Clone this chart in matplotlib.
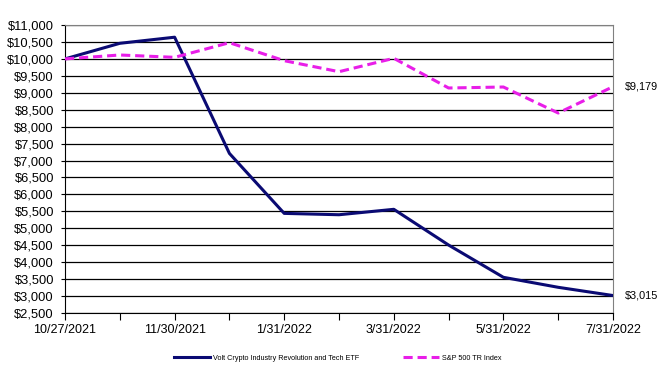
import numpy as np
import matplotlib.pyplot as plt

plt.rcParams['font.family'] = ['Liberation Sans', 'DejaVu Sans']

# month-end dates (fund inception 10/27/2021)
dates = ['10/27/2021', '10/31/2021', '11/30/2021', '12/31/2021', '1/31/2022',
         '2/28/2022', '3/31/2022', '4/30/2022', '5/31/2022', '6/30/2022', '7/31/2022']
volt = [10000, 10460, 10640, 7210, 5440, 5400, 5560, 4505, 3553, 3258, 3015]
sp500 = [10000, 10115, 10046, 10478, 9947, 9622, 10017, 9141, 9170, 8403, 9179]
names = ['Volt Crypto Industry Revolution and Tech ETF', 'S&P 500 TR Index']

x = np.arange(len(dates))

fig = plt.figure(figsize=(6.69, 3.83), dpi=100)
ax = fig.add_axes([0.0972, 0.1828, 0.8191, 0.7519])

ax.plot(x, volt, color='#0a0a73', lw=2.2, label=names[0], zorder=3)
ax.plot(x, sp500, color='#e81ee8', lw=2.2, ls=(0, (3, 1.6)), label=names[1], zorder=3)

ax.set_xlim(0, len(dates) - 1)
ax.set_ylim(2500, 11000)
yt = np.arange(2500, 11001, 500)
ax.set_yticks(yt)
ax.set_yticklabels(['${:,}'.format(v) for v in yt], fontsize=9.3)
ax.set_xticks(x)
ax.set_xticklabels([d if i % 2 == 0 else '' for i, d in enumerate(dates)], fontsize=9)
ax.tick_params(axis='y', length=3, width=0.8, pad=5)
ax.tick_params(axis='x', length=5, width=0.8, pad=3)
ax.grid(axis='y', color='black', lw=0.9)
ax.set_axisbelow(True)
for s in ['top', 'right']:
    ax.spines[s].set_color('#808080')
for s in ['left', 'bottom']:
    ax.spines[s].set_color('black')

# ending values
ax.annotate('${:,}'.format(sp500[-1]), (x[-1], sp500[-1]), xytext=(8.5, 0),
            textcoords='offset points', va='center', fontsize=7.8)
ax.annotate('${:,}'.format(volt[-1]), (x[-1], volt[-1]), xytext=(8.5, 0),
            textcoords='offset points', va='center', fontsize=7.8)

fig.legend(loc='center', bbox_to_anchor=(0.505, 0.065), ncol=2, frameon=False,
           fontsize=5.2, handlelength=5, columnspacing=6, handletextpad=0.4)

fig.savefig('out.png', dpi=100)
